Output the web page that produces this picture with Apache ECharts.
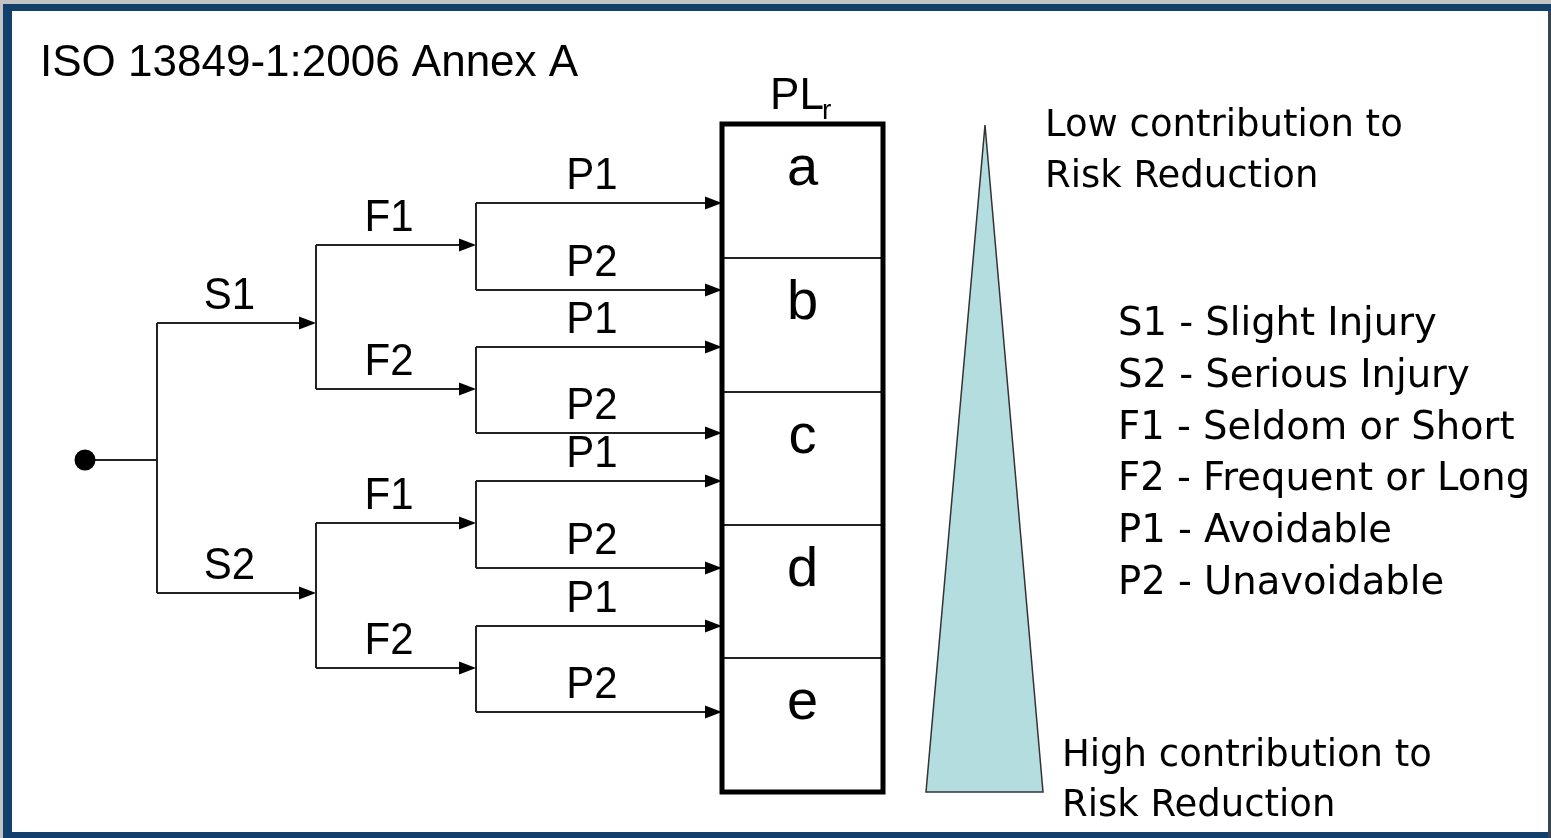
<!DOCTYPE html>
<html>
<head>
<meta charset="utf-8">
<title>ISO 13849-1 risk graph</title>
<script src="https://cdn.jsdelivr.net/npm/echarts@6/dist/echarts.min.js"></script>
<style>
html, body { margin: 0; padding: 0; background: #c3c3c3; }
#chart { width: 1551px; height: 838px; }
</style>
</head>
<body>
<div id="chart"></div>
<script>
// diagram units = pixels of the 1551x838 slide
const rootPoint = [85, 460];
const branchX = [157, 316, 476];
const boxX = [722, 883];
const severityY = [323, 593];
const frequencyY = [245, 389, 523, 668];
const avoidY = [203, 290, 347, 433, 481, 568, 626, 712];
const severityLabels = ['S1', 'S2'];
const frequencyLabels = ['F1', 'F2', 'F1', 'F2'];
const avoidLabels = ['P1', 'P2', 'P1', 'P2', 'P1', 'P2', 'P1', 'P2'];
const plLevels = ['a', 'b', 'c', 'd', 'e'];
const plBounds = [124, 258, 392, 525, 658, 792];
const wedge = [985, 125, 926, 792, 1043, 792];
const legendLines = ['S1 - Slight Injury', 'S2 - Serious Injury', 'F1 - Seldom or Short',
    'F2 - Frequent or Long', 'P1 - Avoidable', 'P2 - Unavoidable'];

const ARIAL = '"Liberation Sans", Arial, sans-serif';
const TAHOMA = '"DejaVu Sans", Tahoma, sans-serif';

// edges of the tree: [x1, y1, x2, y2, arrow]
let edges = [], edgeLabels = [];
function addEdge(x1, y1, x2, y2, arrow, label) {
    edges.push([x1, y1, x2, y2, arrow]);
    edgeLabels.push(label || '');
}
addEdge(rootPoint[0], rootPoint[1], branchX[0], rootPoint[1], 0);
addEdge(branchX[0], severityY[0], branchX[0], severityY[1], 0);
severityY.forEach((y, i) => addEdge(branchX[0], y, branchX[1], y, 1, severityLabels[i]));
for (let i = 0; i < frequencyY.length; i += 2) {
    addEdge(branchX[1], frequencyY[i], branchX[1], frequencyY[i + 1], 0);
}
frequencyY.forEach((y, i) => addEdge(branchX[1], y, branchX[2], y, 1, frequencyLabels[i]));
for (let i = 0; i < avoidY.length; i += 2) {
    addEdge(branchX[2], avoidY[i], branchX[2], avoidY[i + 1], 0);
}
avoidY.forEach((y, i) => addEdge(branchX[2], y, boxX[0], y, 1, avoidLabels[i]));

let cells = plLevels.map((l, i) => [boxX[0], plBounds[i], boxX[1], plBounds[i + 1]]);

function renderEdge(params, api) {
    let a = api.coord([api.value(0), api.value(1)]),
        b = api.coord([api.value(2), api.value(3)]),
        children = [],
        end = b;
    if (api.value(4) === 1) {
        end = [b[0] - 14, b[1]];
        children.push({
            type: 'polygon',
            shape: { points: [[b[0], b[1]], [b[0] - 17, b[1] - 6.5], [b[0] - 17, b[1] + 6.5]] },
            style: { fill: '#000' }
        });
    }
    children.unshift({
        type: 'line',
        shape: { x1: a[0], y1: a[1], x2: end[0], y2: end[1] },
        style: { stroke: '#222', lineWidth: 2 }
    });
    let label = edgeLabels[params.dataIndex];
    if (label) {
        children.push({
            type: 'text',
            x: (a[0] + b[0]) / 2 - 7,
            y: a[1] - 26,
            scaleY: 1.06,
            style: {
                text: label, font: '42px ' + ARIAL, fill: '#000',
                align: 'center', textAlign: 'center',
                verticalAlign: 'middle', textVerticalAlign: 'middle'
            }
        });
    }
    return { type: 'group', children: children };
}

function renderCell(params, api) {
    let p0 = api.coord([api.value(0), api.value(1)]),
        p1 = api.coord([api.value(2), api.value(3)]);
    return {
        type: 'group',
        children: [{
            type: 'rect',
            shape: { x: p0[0], y: p0[1], width: p1[0] - p0[0], height: p1[1] - p0[1] },
            style: { fill: '#fff', stroke: '#222', lineWidth: 2 }
        }, {
            type: 'text',
            x: (p0[0] + p1[0]) / 2,
            y: (p0[1] + p1[1]) / 2 - 21,
            style: {
                text: plLevels[params.dataIndex], font: '56px ' + ARIAL, fill: '#000',
                align: 'center', textAlign: 'center',
                verticalAlign: 'middle', textVerticalAlign: 'middle'
            }
        }]
    };
}

function renderFrame(params, api) {
    let p0 = api.coord([api.value(0), api.value(1)]),
        p1 = api.coord([api.value(2), api.value(3)]);
    return {
        type: 'rect',
        shape: { x: p0[0], y: p0[1], width: p1[0] - p0[0], height: p1[1] - p0[1] },
        style: { fill: 'none', stroke: '#000', lineWidth: 5 }
    };
}

function renderWedge(params, api) {
    let pts = [];
    for (let i = 0; i < 6; i += 2) {
        pts.push(api.coord([api.value(i), api.value(i + 1)]));
    }
    return {
        type: 'polygon',
        shape: { points: pts },
        style: { fill: '#b4dde0', stroke: '#333', lineWidth: 1.5 }
    };
}

function txt(text, x, y, font, align) {
    return {
        type: 'text', x: x, y: y, z: 10,
        style: {
            text: text, font: font, fill: '#000',
            align: align || 'left', textAlign: align || 'left',
            verticalAlign: 'middle', textVerticalAlign: 'middle'
        }
    };
}

let graphics = [
    { type: 'rect', left: 3, top: 4, z: -10, shape: { width: 1548, height: 834 }, style: { fill: '#123f6c' } },
    { type: 'rect', left: 12, top: 11, z: -9, shape: { width: 1536, height: 821 }, style: { fill: '#fff' } },
    { type: 'rect', left: 1548, top: 11, z: -9, shape: { width: 3, height: 827 }, style: { fill: '#3a4350' } },
    txt('ISO 13849-1:2006 Annex A', 40, 64, '44px ' + ARIAL),
    txt('PL', 797, 97, '44px ' + ARIAL, 'center'),
    txt('r', 822, 111, '28px ' + ARIAL),
    txt('Low contribution to', 1045, 126, '37px ' + TAHOMA),
    txt('Risk Reduction', 1045, 177, '37px ' + TAHOMA),
    txt('High contribution to', 1062, 756, '37px ' + TAHOMA),
    txt('Risk Reduction', 1062, 806, '37px ' + TAHOMA)
];
legendLines.forEach((l, i) => {
    graphics.push(txt(l, 1118, 325 + i * 51.8, '38.5px ' + TAHOMA));
});

let chart = echarts.init(document.getElementById('chart'), null, { renderer: 'canvas' });
chart.setOption({
    backgroundColor: '#c3c3c3',
    animation: false,
    grid: { left: 0, right: 0, top: 0, bottom: 0 },
    xAxis: { type: 'value', min: 0, max: 1551, show: false },
    yAxis: { type: 'value', min: 0, max: 838, inverse: true, show: false },
    graphic: graphics,
    series: [{
        type: 'custom',
        name: 'wedge',
        renderItem: renderWedge,
        data: [wedge],
        silent: true
    }, {
        type: 'custom',
        name: 'tree',
        renderItem: renderEdge,
        encode: { x: [0, 2], y: [1, 3] },
        data: edges,
        silent: true
    }, {
        type: 'custom',
        name: 'PLr',
        renderItem: renderCell,
        encode: { x: [0, 2], y: [1, 3] },
        data: cells,
        silent: true
    }, {
        type: 'custom',
        name: 'PLr frame',
        renderItem: renderFrame,
        data: [[boxX[0], plBounds[0], boxX[1], plBounds[plBounds.length - 1]]],
        silent: true
    }, {
        type: 'scatter',
        name: 'start',
        symbolSize: 21,
        itemStyle: { color: '#000', opacity: 1 },
        data: [rootPoint],
        silent: true
    }]
});
window.addEventListener('resize', () => chart.resize());
</script>
</body>
</html>
